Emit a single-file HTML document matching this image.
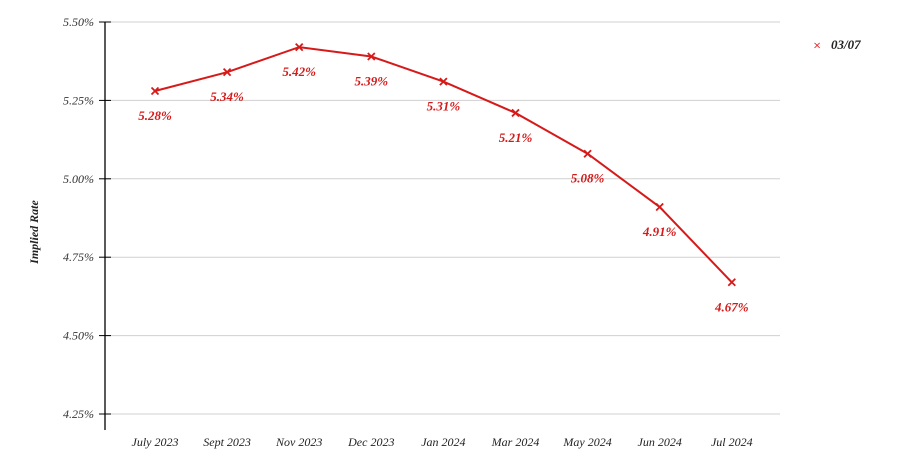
<!DOCTYPE html>
<html><head><meta charset="utf-8"><style>
body{margin:0;background:#fff}
svg text{font-family:"Liberation Serif",serif;font-style:italic}
</style></head><body>
<svg width="900" height="471">
<g id="grid"></g><g id="axis"></g><g id="series"></g>
<text transform="translate(38,232) rotate(-90)" text-anchor="middle" font-size="12" font-weight="bold" fill="#222">Implied Rate</text>
<g>
<text x="817" y="50" font-size="14" fill="#d00" font-style="normal" text-anchor="middle" font-family="Liberation Sans">×</text>
<text x="831" y="49" font-size="13" fill="#222" font-style="normal" font-weight="bold">03/07</text>
</g>
</svg>
<script>
const categories=["July 2023","Sept 2023","Nov 2023","Dec 2023","Jan 2024","Mar 2024","May 2024","Jun 2024","Jul 2024"];
const values=[5.28,5.34,5.42,5.39,5.31,5.21,5.08,4.91,4.67];
const yTicks=[4.25,4.50,4.75,5.00,5.25,5.50];
const NS="http://www.w3.org/2000/svg";
const y=v=>414-(v-4.25)/1.25*392;
const x=i=>155+i*72.1;
function mk(t,a,p){const e=document.createElementNS(NS,t);for(const k in a)e.setAttribute(k,a[k]);p.appendChild(e);return e;}
const grid=document.getElementById('grid'),axis=document.getElementById('axis'),ser=document.getElementById('series');
yTicks.forEach(v=>{
 const l=mk('line',{x1:105,x2:780,y1:y(v),y2:y(v),stroke:'#d0d0d0'},grid);
 
 
 mk('line',{x1:99,x2:111,y1:y(v),y2:y(v),stroke:'#000'},axis);
 const t=mk('text',{x:94,y:y(v)+4,'text-anchor':'end','font-size':12,fill:'#333'},axis);
 t.textContent=v.toFixed(2)+'%';
 
 
});
const ax=mk('line',{x1:105,x2:105,y1:22,y2:430,stroke:'#000','stroke-width':1.3},axis);


categories.forEach((c,i)=>{
 const t=mk('text',{x:x(i),y:446,'text-anchor':'middle','font-size':12,fill:'#222'},axis);
 t.textContent=c;
 
 
});
const pl=mk('polyline',{points:values.map((v,i)=>x(i)+','+y(v)).join(' '),fill:'none',stroke:'#d61a1a','stroke-width':2},ser);


values.forEach((v,i)=>{
 const cx=x(i),cy=y(v);
 const m=mk('path',{d:`M${cx-3.5},${cy-3.5}L${cx+3.5},${cy+3.5}M${cx-3.5},${cy+3.5}L${cx+3.5},${cy-3.5}`,stroke:'#d61a1a','stroke-width':1.8},ser);
 
 
 const t=mk('text',{x:cx,y:cy+29,'text-anchor':'middle','font-size':13,'font-weight':'bold',fill:'#d61a1a'},ser);
 t.textContent=v.toFixed(2)+'%';
 
 
});
</script>
</body></html>
